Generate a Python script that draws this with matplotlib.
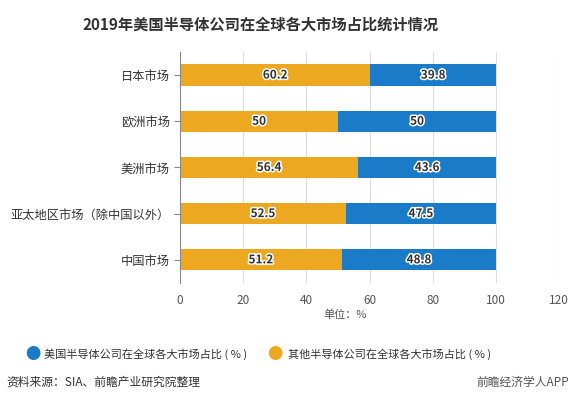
import matplotlib.pyplot as plt
import matplotlib.patheffects as pe
import numpy as np

plt.rcParams['font.family'] = ['Noto Sans CJK SC', 'DejaVu Sans']

# --- data (bottom to top) ---
markets = ['中国市场', '亚太地区市场（除中国以外）', '美洲市场', '欧洲市场', '日本市场']
others = [51.2, 52.5, 56.4, 50, 60.2]
us = [48.8, 47.5, 43.6, 50, 39.8]
xticks = [0, 20, 40, 60, 80, 100, 120]

c_us = '#1A7BC9'
c_other = '#EDA821'

fig = plt.figure(figsize=(5.7, 4.03), dpi=100)
ax = fig.add_axes([0.316, 0.298, 0.665, 0.573])

y = np.arange(len(markets))
ax.barh(y, others, height=0.46, color=c_other, zorder=2)
ax.barh(y, us, left=others, height=0.46, color=c_us, zorder=2)

stroke = [pe.withStroke(linewidth=2.2, foreground='white')]
for i in range(len(markets)):
    ax.text(others[i] / 2, y[i], f'{others[i]:g}', ha='center', va='center',
            fontsize=8.5, fontweight='bold', color='#333333', path_effects=stroke, zorder=3)
    ax.text(others[i] + us[i] / 2, y[i], f'{us[i]:g}', ha='center', va='center',
            fontsize=8.5, fontweight='bold', color='#333333', path_effects=stroke, zorder=3)

ax.set_xlim(0, 120)
ax.set_ylim(-0.5, len(markets) - 0.5)
ax.set_xticks(xticks)
ax.set_yticks(y)
ax.set_yticklabels(markets)
ax.tick_params(axis='x', length=0, labelsize=8.5, labelcolor='#555555', pad=8)
ax.tick_params(axis='y', length=4, color='#888888', labelsize=8.8, labelcolor='#333333')
ax.grid(axis='x', color='#dddddd', linewidth=0.8, zorder=0)
for s in ['top', 'right', 'bottom']:
    ax.spines[s].set_visible(False)
ax.spines['left'].set_color('#888888')

fig.text(0.458, 0.94, '2019年美国半导体公司在全球各大市场占比统计情况', ha='center', va='center',
         fontsize=11, fontweight='bold', color='#333333')
fig.text(0.605, 0.218, '单位：%', ha='center', va='center', fontsize=8, color='#555555')

# legend
fig.text(0.058, 0.12, '●', ha='center', va='center', fontsize=11, color=c_us)
fig.text(0.078, 0.12, '美国半导体公司在全球各大市场占比 ( % )', ha='left', va='center',
         fontsize=8, color='#333333')
fig.text(0.483, 0.12, '●', ha='center', va='center', fontsize=11, color=c_other)
fig.text(0.505, 0.12, '其他半导体公司在全球各大市场占比 ( % )', ha='left', va='center',
         fontsize=8, color='#333333')

fig.text(0.012, 0.052, '资料来源：SIA、前瞻产业研究院整理', ha='left', va='center',
         fontsize=8.5, color='#333333')
fig.text(0.998, 0.052, '前瞻经济学人APP', ha='right', va='center', fontsize=8.5, color='#555555')

fig.savefig('out.png', dpi=100, facecolor='white')
